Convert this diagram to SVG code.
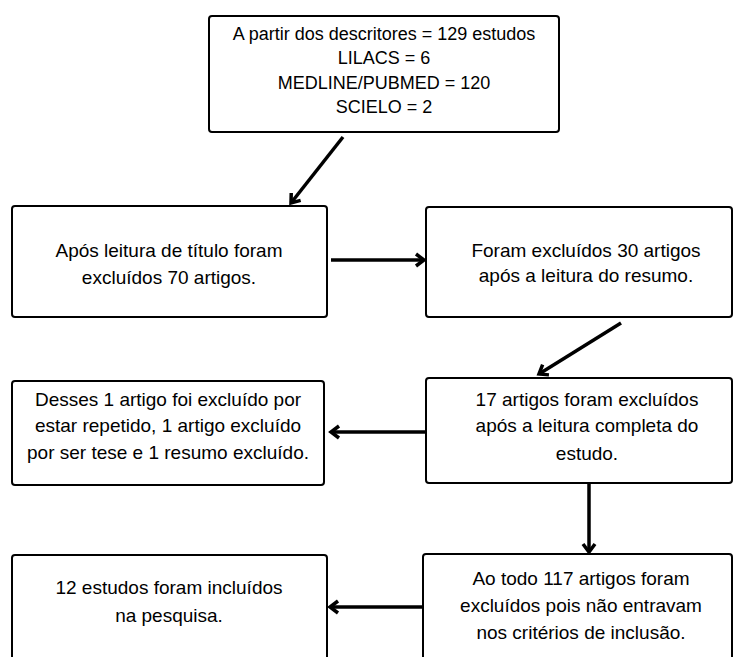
<svg xmlns="http://www.w3.org/2000/svg" width="734" height="657" viewBox="0 0 734 657">
<defs>
<marker id="ah" markerUnits="userSpaceOnUse" markerWidth="18" markerHeight="18" viewBox="0 0 18 18" refX="14" refY="9" orient="auto">
<path d="M6,3 L14,9 L6,15" fill="none" stroke="#000" stroke-width="3.5" stroke-linejoin="miter"/>
</marker>
</defs>
<style>
.box{fill:#fff;stroke:#000;stroke-width:2}
.t{font-family:"Liberation Sans",Arial,sans-serif;font-size:19px;fill:#000;text-anchor:middle}
.s{font-size:18px}
.c{stroke:#000;stroke-width:3.5;fill:none;marker-end:url(#ah)}
</style>
<rect width="734" height="657" fill="#fff"/>
<g id="n1">
<rect class="box" x="209" y="16" width="350" height="116" rx="3"/>
<text class="t s" x="384" y="40">A partir dos descritores = 129 estudos</text>
<text class="t s" x="384" y="64">LILACS = 6</text>
<text class="t s" x="384" y="89">MEDLINE/PUBMED = 120</text>
<text class="t s" x="384" y="113">SCIELO = 2</text>
</g>
<g id="n2">
<rect class="box" x="12" y="206" width="315" height="111" rx="3"/>
<text class="t" x="169" y="257">Após leitura de título foram</text>
<text class="t" x="169" y="284">excluídos 70 artigos.</text>
</g>
<g id="n3">
<rect class="box" x="426" y="207" width="306" height="110" rx="3"/>
<text class="t" x="586" y="257">Foram excluídos 30 artigos</text>
<text class="t" x="586" y="282">após a leitura do resumo.</text>
</g>
<g id="n4">
<rect class="box" x="12" y="381" width="312" height="104" rx="3"/>
<text class="t" x="168" y="406">Desses 1 artigo foi excluído por</text>
<text class="t" x="168" y="432">estar repetido, 1 artigo excluído</text>
<text class="t" x="168" y="459">por ser tese e 1 resumo excluído.</text>
</g>
<g id="n5">
<rect class="box" x="426" y="378" width="306" height="105" rx="3"/>
<text class="t" x="587" y="406">17 artigos foram excluídos</text>
<text class="t" x="587" y="432">após a leitura completa do</text>
<text class="t" x="587" y="460">estudo.</text>
</g>
<g id="n6">
<rect class="box" x="12" y="555" width="315" height="120" rx="3"/>
<text class="t" x="169" y="594">12 estudos foram incluídos</text>
<text class="t" x="169" y="622">na pesquisa.</text>
</g>
<g id="n7">
<rect class="box" x="423" y="554" width="309" height="120" rx="3"/>
<text class="t" x="581" y="585">Ao todo 117 artigos foram</text>
<text class="t" x="581" y="612">excluídos pois não entravam</text>
<text class="t" x="581" y="639">nos critérios de inclusão.</text>
</g>
<g id="connectors">
<line class="c" x1="343" y1="137" x2="291" y2="203"/>
<line class="c" x1="331" y1="260" x2="424" y2="260"/>
<line class="c" x1="621" y1="323" x2="539" y2="374"/>
<line class="c" x1="426" y1="432" x2="331" y2="432"/>
<line class="c" x1="589" y1="483" x2="589" y2="552"/>
<line class="c" x1="423" y1="607" x2="330" y2="607"/>
</g>
</svg>
